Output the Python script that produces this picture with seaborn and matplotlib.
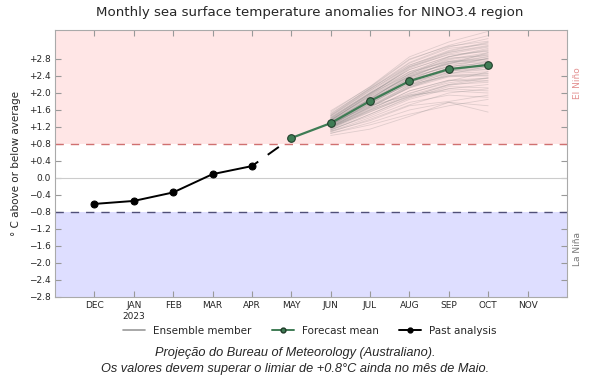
import numpy as np
import pandas as pd
import matplotlib
matplotlib.use("Agg")
import matplotlib.pyplot as plt
from matplotlib.lines import Line2D
import seaborn as sns

months = ["DEC", "JAN\n2023", "FEB", "MAR", "APR", "MAY", "JUN", "JUL", "AUG", "SEP", "OCT", "NOV"]

past_months = ["DEC", "JAN\n2023", "FEB", "MAR", "APR"]
past_values = [-0.61, -0.54, -0.34, 0.09, 0.28]

bridge_months = ["APR", "MAY"]
bridge_values = [0.28, 0.94]

mean_months = ["MAY", "JUN", "JUL", "AUG", "SEP", "OCT"]
mean_values = [0.94, 1.29, 1.81, 2.28, 2.56, 2.66]

ens_months = ["JUN", "JUL", "AUG", "SEP", "OCT"]
ensemble = [
    [1.29, 1.82, 2.30, 2.58, 2.68],
    [1.35, 1.92, 2.45, 2.80, 2.95],
    [1.22, 1.70, 2.15, 2.40, 2.45],
    [1.45, 2.05, 2.65, 3.00, 3.20],
    [1.15, 1.55, 1.95, 2.20, 2.25],
    [1.40, 2.00, 2.55, 2.85, 3.00],
    [1.25, 1.78, 2.28, 2.55, 2.62],
    [1.32, 1.88, 2.40, 2.70, 2.85],
    [1.18, 1.62, 2.05, 2.30, 2.35],
    [1.55, 2.15, 2.85, 3.20, 3.45],
    [1.05, 1.30, 1.60, 1.78, 1.70],
    [1.00, 1.15, 1.45, 1.78, 1.55],
    [1.28, 1.70, 1.95, 2.05, 2.00],
    [1.38, 1.98, 2.60, 2.95, 3.10],
    [1.20, 1.66, 2.12, 2.38, 2.42],
    [1.30, 1.86, 2.42, 2.78, 2.92],
    [1.50, 2.12, 2.78, 3.12, 3.35],
    [1.10, 1.42, 1.78, 1.95, 1.90],
    [1.24, 1.74, 2.24, 2.52, 2.60],
    [1.34, 1.90, 2.38, 2.62, 2.70],
    [1.20, 1.60, 1.92, 2.10, 2.20],
    [1.42, 2.02, 2.62, 2.98, 3.18],
    [1.27, 1.80, 2.30, 2.52, 2.56],
    [1.12, 1.50, 1.90, 2.20, 2.35],
    [1.46, 2.06, 2.62, 2.90, 2.98],
    [1.30, 1.84, 2.34, 2.64, 2.82],
    [1.22, 1.68, 2.12, 2.45, 2.62],
    [1.36, 1.95, 2.50, 2.82, 2.88],
    [1.05, 1.25, 1.50, 1.70, 1.85],
    [1.26, 1.76, 2.22, 2.46, 2.50],
    [1.48, 2.10, 2.72, 3.08, 3.28],
    [1.16, 1.60, 2.05, 2.30, 2.28],
    [1.31, 1.87, 2.38, 2.70, 2.80],
    [1.24, 1.72, 2.18, 2.42, 2.46],
    [1.39, 1.99, 2.55, 2.86, 3.02],
    [1.13, 1.50, 1.88, 2.15, 2.12],
    [1.29, 1.84, 2.36, 2.74, 2.90],
    [1.21, 1.66, 2.14, 2.50, 2.70],
    [1.58, 2.14, 2.80, 3.10, 3.22],
    [1.19, 1.64, 2.00, 2.24, 2.36],
    [1.33, 1.86, 2.26, 2.48, 2.55],
    [1.27, 1.85, 2.45, 2.85, 3.05],
    [1.17, 1.58, 1.98, 2.28, 2.50],
    [1.43, 2.00, 2.50, 2.75, 2.80],
    [1.08, 1.38, 1.72, 2.00, 2.10],
    [1.36, 1.94, 2.48, 2.74, 2.76],
    [1.23, 1.76, 2.30, 2.68, 2.95],
    [1.30, 1.80, 2.20, 2.40, 2.40],
    [1.47, 2.08, 2.70, 3.05, 3.15],
    [1.14, 1.46, 1.85, 2.10, 2.05],
    [1.26, 1.80, 2.35, 2.62, 2.72],
    [1.35, 1.96, 2.58, 2.92, 3.08],
    [1.20, 1.68, 2.18, 2.56, 2.75],
    [1.10, 1.35, 1.70, 1.80, 1.95],
    [1.41, 1.98, 2.44, 2.68, 2.74],
    [1.28, 1.82, 2.32, 2.58, 2.64],
    [1.19, 1.56, 1.92, 2.18, 2.30],
    [1.37, 1.92, 2.40, 2.72, 2.86],
    [1.25, 1.74, 2.26, 2.60, 2.82],
    [1.52, 2.10, 2.66, 2.96, 3.12],
]

yticks = [-2.8, -2.4, -2.0, -1.6, -1.2, -0.8, -0.4, 0.0, 0.4, 0.8, 1.2, 1.6, 2.0, 2.4, 2.8]
ytick_labels = ["\u22122.8", "\u22122.4", "\u22122.0", "\u22121.6", "\u22121.2", "\u22120.8", "\u22120.4",
                "0.0", "+0.4", "+0.8", "+1.2", "+1.6", "+2.0", "+2.4", "+2.8"]

sns.set_theme(style="white")
plt.rcParams["font.family"] = ["DejaVu Sans"]

pos = {m: i for i, m in enumerate(months)}

fig = plt.figure(figsize=(5.98, 3.81), dpi=100)
ax = fig.add_axes([0.092, 0.2205, 0.856, 0.7005])

ymin, ymax = -2.8, 3.48
ax.axhspan(0.8, ymax, color="#ffe6e6", zorder=0, lw=0)
ax.axhspan(ymin, -0.8, color="#dedeff", zorder=0, lw=0)
ax.axhline(0.0, color="#cccccc", lw=0.8, zorder=1)
ax.axhline(0.8, color="#d07070", lw=1.0, ls=(0, (6, 5)), zorder=1)
ax.axhline(-0.8, color="#505078", lw=1.0, ls=(0, (6, 5)), zorder=1)

ens_df = pd.DataFrame(
    [(k, pos[m], v) for k, row in enumerate(ensemble) for m, v in zip(ens_months, row)],
    columns=["member", "x", "y"],
)
sns.lineplot(data=ens_df, x="x", y="y", units="member", estimator=None,
             color="#808080", alpha=0.25, lw=0.6, ax=ax, legend=False, zorder=2)

past_df = pd.DataFrame({"x": [pos[m] for m in past_months], "y": past_values})
sns.lineplot(data=past_df, x="x", y="y", color="black", lw=1.4, marker="o",
             markersize=5, markeredgecolor="black", ax=ax, legend=False, zorder=4)

bridge_df = pd.DataFrame({"x": [pos[m] for m in bridge_months], "y": bridge_values})
sns.lineplot(data=bridge_df, x="x", y="y", color="black", lw=1.4, ax=ax,
             legend=False, zorder=3, dashes=False)
ax.lines[-1].set_linestyle((3, (7, 6)))

mean_df = pd.DataFrame({"x": [pos[m] for m in mean_months], "y": mean_values})
sns.lineplot(data=mean_df, x="x", y="y", color="#3f7c55", lw=1.6, marker="o",
             markersize=5.5, markerfacecolor="#3f7c55", markeredgecolor="#1e3a28",
             ax=ax, legend=False, zorder=5)

ax.set_xlim(-1, 12)
ax.set_ylim(ymin, ymax)
ax.set_xticks(range(len(months)))
ax.set_xticklabels(months, fontsize=6.5)
ax.set_yticks(yticks)
ax.set_yticklabels(ytick_labels, fontsize=6.5)
ax.tick_params(direction="in", length=4, width=0.8, color="#999999",
               top=True, right=True, bottom=True, left=True, pad=3)
ax.set_xlabel("")
ax.set_ylabel("\u00b0 C above or below average", fontsize=7.5, labelpad=6)
for s in ax.spines.values():
    s.set_color("#aaaaaa")
    s.set_linewidth(0.8)

ax.text(1.02, 0.8, "El Ni\u00f1o", transform=ax.transAxes, rotation=90,
        fontsize=6.5, color="#e39090", ha="center", va="center")
ax.text(1.02, 0.18, "La Ni\u00f1a", transform=ax.transAxes, rotation=90,
        fontsize=6.5, color="#777777", ha="center", va="center")

fig.text(0.518, 0.968, "Monthly sea surface temperature anomalies for NINO3.4 region",
         ha="center", va="center", fontsize=9.6)

handles = [
    Line2D([], [], color="#999999", lw=1.2),
    Line2D([], [], color="#3f7c55", lw=1.4, marker="o", markersize=3.5,
           markerfacecolor="#3f7c55", markeredgecolor="#1e3a28"),
    Line2D([], [], color="black", lw=1.4, marker="o", markersize=3.5),
]
fig.legend(handles, ["Ensemble member", "Forecast mean", "Past analysis"],
           loc="center", bbox_to_anchor=(0.518, 0.131), ncol=3, frameon=False,
           fontsize=7.5, handlelength=2.1, handletextpad=0.75, columnspacing=2.0)

fig.text(0.493, 0.073, "Proje\u00e7\u00e3o do Bureau of Meteorology (Australiano).",
         ha="center", va="center", fontsize=9.2, style="italic", family="Liberation Sans")
fig.text(0.493, 0.031, "Os valores devem superar o limiar de +0.8\u00b0C ainda no m\u00eas de Maio.",
         ha="center", va="center", fontsize=9.2, style="italic", family="Liberation Sans")

fig.savefig("out.png", dpi=100)
